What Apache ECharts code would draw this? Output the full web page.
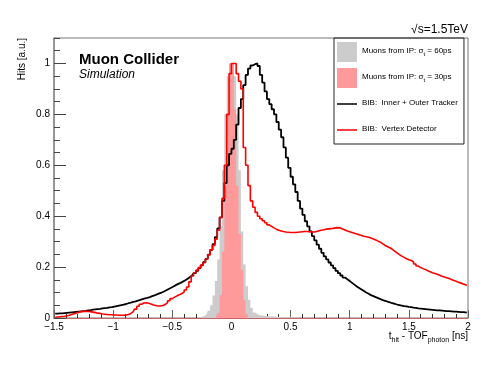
<!DOCTYPE html>
<html>
<head>
<meta charset="utf-8">
<script src="https://cdn.jsdelivr.net/npm/echarts@6/dist/echarts.min.js"></script>
<style>
html, body { margin: 0; padding: 0; background: #fff; }
#chart { width: 498px; height: 374px; }
</style>
</head>
<body>
<div id="chart"></div>
<script>
// histogram binning [ns]
const binWidth = 0.02
const bibStart = -1.5
const muons60Start = -0.30
const muons30Start = -0.14

// BIB: Inner + Outer Tracker
const bibTracker = [
    0.017, 0.017, 0.018, 0.018, 0.019, 0.020, 0.021, 0.022, 0.023, 0.024,
    0.025, 0.026, 0.027, 0.028, 0.030, 0.031, 0.033, 0.034, 0.035, 0.036,
    0.038, 0.039, 0.040, 0.042, 0.043, 0.045, 0.047, 0.049, 0.051, 0.053,
    0.055, 0.058, 0.060, 0.063, 0.065, 0.068, 0.071, 0.074, 0.077, 0.079,
    0.082, 0.086, 0.089, 0.093, 0.097, 0.100, 0.104, 0.109, 0.114, 0.119,
    0.124, 0.129, 0.134, 0.138, 0.143, 0.148, 0.154, 0.161, 0.168, 0.176,
    0.185, 0.196, 0.207, 0.219, 0.232, 0.249, 0.268, 0.290, 0.318, 0.352,
    0.395, 0.460, 0.530, 0.600, 0.645, 0.665, 0.700, 0.760, 0.825, 0.860,
    0.915, 0.955, 0.980, 0.992, 0.997, 1.000, 0.990, 0.955, 0.925, 0.890,
    0.860, 0.840, 0.820, 0.800, 0.770, 0.740, 0.710, 0.670, 0.630, 0.590,
    0.555, 0.525, 0.495, 0.460, 0.430, 0.405, 0.380, 0.360, 0.340, 0.322,
    0.305, 0.288, 0.272, 0.256, 0.242, 0.230, 0.218, 0.207, 0.196, 0.185,
    0.176, 0.167, 0.159, 0.152, 0.145, 0.138, 0.131, 0.124, 0.118, 0.112,
    0.106, 0.100, 0.095, 0.090, 0.086, 0.082, 0.078, 0.074, 0.070, 0.067,
    0.064, 0.061, 0.058, 0.056, 0.053, 0.051, 0.049, 0.047, 0.046, 0.044,
    0.043, 0.041, 0.040, 0.038, 0.037, 0.036, 0.035, 0.034, 0.033, 0.032,
    0.031, 0.030, 0.030, 0.029, 0.028, 0.027, 0.027, 0.026, 0.025, 0.025,
    0.024, 0.023, 0.023, 0.022, 0.021
]

// BIB: Vertex Detector
const bibVertex = [
    0.003, 0.004, 0.005, 0.006, 0.007, 0.009, 0.011, 0.014, 0.017, 0.020,
    0.023, 0.025, 0.026, 0.026, 0.026, 0.025, 0.023, 0.021, 0.019, 0.018,
    0.016, 0.015, 0.014, 0.013, 0.013, 0.012, 0.012, 0.011, 0.011, 0.011,
    0.012, 0.014, 0.018, 0.025, 0.035, 0.046, 0.054, 0.059, 0.060, 0.058,
    0.055, 0.051, 0.049, 0.047, 0.047, 0.049, 0.053, 0.060, 0.068, 0.076,
    0.082, 0.087, 0.091, 0.096, 0.102, 0.110, 0.122, 0.142, 0.165, 0.178,
    0.188, 0.198, 0.208, 0.218, 0.232, 0.248, 0.268, 0.285, 0.310, 0.345,
    0.395, 0.470, 0.600, 0.800, 0.960, 1.000, 1.000, 0.960, 0.930, 0.900,
    0.670, 0.600, 0.520, 0.460, 0.435, 0.415, 0.400, 0.390, 0.382, 0.374,
    0.366, 0.360, 0.354, 0.349, 0.345, 0.342, 0.340, 0.338, 0.337, 0.336,
    0.336, 0.336, 0.337, 0.338, 0.339, 0.340, 0.340, 0.339, 0.338, 0.338,
    0.340, 0.343, 0.345, 0.347, 0.349, 0.350, 0.351, 0.352, 0.354, 0.355,
    0.354, 0.350, 0.346, 0.342, 0.339, 0.336, 0.333, 0.330, 0.327, 0.324,
    0.321, 0.319, 0.317, 0.314, 0.310, 0.306, 0.302, 0.298, 0.291, 0.285,
    0.280, 0.276, 0.270, 0.263, 0.256, 0.249, 0.243, 0.238, 0.233, 0.229,
    0.226, 0.220, 0.212, 0.204, 0.198, 0.194, 0.190, 0.186, 0.182, 0.178,
    0.175, 0.172, 0.168, 0.164, 0.161, 0.158, 0.155, 0.151, 0.147, 0.144,
    0.140, 0.137, 0.134, 0.131, 0.127
]

// Muons from IP, sigma_t = 60ps
const muons60 = [
    0.002, 0.003, 0.005, 0.008, 0.015, 0.028, 0.050, 0.088, 0.145, 0.230,
    0.360, 0.580, 0.800, 0.950, 1.000, 1.000, 0.950, 0.800, 0.580, 0.340,
    0.210, 0.125, 0.072, 0.040, 0.022, 0.015, 0.012, 0.010, 0.009, 0.008,
    0.007, 0.006, 0.006, 0.005, 0.005, 0.004, 0.004, 0.003, 0.003, 0.003,
    0.002, 0.002, 0.002, 0.001, 0.001
]

// Muons from IP, sigma_t = 30ps
const muons30 = [
    0.005, 0.020, 0.090, 0.260, 0.520, 0.800, 1.000, 1.000, 0.820, 0.520,
    0.330, 0.190, 0.070, 0.015, 0.003
]

const yMajorTicks = [0, 0.2, 0.4, 0.6, 0.8, 1]

const names = {
    m60: 'Muons from IP: sigma60',
    m30: 'Muons from IP: sigma30',
    trk: 'BIB:  Inner + Outer Tracker',
    vtx: 'BIB:  Vertex Detector'
}
const legendText = {
    [names.m60]: '{a|Muons from IP: σ}{s|t}{a| = 60ps}',
    [names.m30]: '{a|Muons from IP: σ}{s|t}{a| = 30ps}',
    [names.trk]: '{a|BIB:  Inner + Outer Tracker}',
    [names.vtx]: '{a|BIB:  Vertex Detector}'
}
// thin bar for the line histograms; the two tiny corner specks keep a 20x20 box
const lineIcon = 'path://M0,0L0.01,0L0.01,0.01L0,0.01Z M0,9.2L20,9.2L20,10.8L0,10.8Z M19.99,19.99L20,19.99L20,20L19.99,20Z'

const FONT = '"Liberation Sans", Arial, Helvetica, sans-serif'

function toPoints(start, values) {
    return values.map((v, i) => [+(start + (i + 0.5) * binWidth).toFixed(4), v])
}

function fmtX(v) {
    if (v < 0) return '\u2212' + Math.abs(v)
    return String(v)
}

const chart = echarts.init(document.getElementById('chart'), null, { renderer: 'canvas' })

const option = {
    animation: false,
    backgroundColor: '#fff',
    textStyle: { fontFamily: FONT },
    grid: {
        left: 54, right: 30, top: 38, bottom: 56,
        show: true, borderColor: '#777', borderWidth: 1, backgroundColor: 'transparent'
    },
    legend: {
        left: 334, top: 38,
        orient: 'vertical',
        itemWidth: 20, itemHeight: 20, itemGap: 6,
        padding: [4, 6, 4, 3],
        borderColor: '#222', borderWidth: 1, borderRadius: 0,
        selectedMode: false,
        textStyle: {
            fontFamily: FONT, fontSize: 8, color: '#000',
            rich: {
                a: { fontFamily: FONT, fontSize: 8, color: '#000', verticalAlign: 'bottom', padding: [0, 0, 2, 0] },
                s: { fontFamily: FONT, fontSize: 6, color: '#000', verticalAlign: 'bottom' }
            }
        },
        formatter: name => legendText[name],
        data: [
            { name: names.m60, icon: 'rect' },
            { name: names.m30, icon: 'rect' },
            { name: names.trk, icon: lineIcon },
            { name: names.vtx, icon: lineIcon }
        ]
    },
    xAxis: {
        type: 'value',
        min: -1.5, max: 2, interval: 0.5,
        axisLine: { onZero: false, lineStyle: { color: '#c86464', width: 1 } },
        axisTick: { inside: true, length: 8, lineStyle: { color: '#666', width: 1 } },
        minorTick: { show: true, splitNumber: 5, length: 4, lineStyle: { color: '#333', width: 1 } },
        splitLine: { show: false },
        axisLabel: { margin: 4, fontSize: 10, color: '#000', fontFamily: FONT, formatter: fmtX }
    },
    yAxis: [
        {
            type: 'value',
            min: 0, max: 1.1,
            axisLine: { show: true, onZero: false, lineStyle: { color: '#888', width: 1.5 } },
            axisTick: { inside: true, length: 12, customValues: yMajorTicks, lineStyle: { color: '#444', width: 1 } },
            splitLine: { show: false },
            axisLabel: {
                margin: 4, fontSize: 10, color: '#000', fontFamily: FONT,
                customValues: yMajorTicks, formatter: v => String(v)
            }
        },
        {
            type: 'value',
            position: 'left',
            min: 0, max: 1.1, interval: 0.05,
            axisLine: { show: false, onZero: false },
            axisTick: { inside: true, length: 6, lineStyle: { color: '#444', width: 1 } },
            splitLine: { show: false },
            axisLabel: { show: false }
        }
    ],
    series: [
        {
            name: names.m60,
            type: 'line',
            step: 'middle',
            symbol: 'none',
            color: '#cccccc',
            lineStyle: { width: 0, color: '#cccccc' },
            areaStyle: { color: '#cccccc', opacity: 1 },
            data: toPoints(muons60Start, muons60),
            z: 1
        },
        {
            name: names.m30,
            type: 'line',
            step: 'middle',
            symbol: 'none',
            color: '#ff9a9a',
            lineStyle: { width: 0, color: '#ff9a9a' },
            areaStyle: { color: '#ff9a9a', opacity: 1 },
            data: toPoints(muons30Start, muons30),
            z: 2
        },
        {
            name: names.trk,
            type: 'line',
            step: 'middle',
            symbol: 'none',
            color: '#000',
            lineStyle: { width: 1.8, color: '#000' },
            data: toPoints(bibStart, bibTracker),
            z: 3
        },
        {
            name: names.vtx,
            type: 'line',
            step: 'middle',
            symbol: 'none',
            color: '#ff0000',
            lineStyle: { width: 1.6, color: '#ff0000' },
            data: toPoints(bibStart, bibVertex),
            z: 4
        }
    ],
    graphic: [
        {
            type: 'text', left: 79, top: 52,
            style: { text: 'Muon Collider', font: 'bold 15px ' + FONT, fill: '#000' }
        },
        {
            type: 'text', left: 79, top: 69,
            style: { text: 'Simulation', font: 'italic 12px ' + FONT, fill: '#000' }
        },
        {
            type: 'text', right: 30, top: 24,
            style: { text: '√s=1.5TeV', font: '12px ' + FONT, fill: '#000' }
        },
        {
            type: 'text', x: 22, y: 38, rotation: Math.PI / 2,
            style: {
                text: 'Hits [a.u.]', font: '10px ' + FONT, fill: '#000',
                align: 'right', verticalAlign: 'middle'
            }
        },
        {
            type: 'text', right: 30, top: 331,
            style: {
                text: '{a|t}{s|hit}{a| - TOF}{s|photon}{a| [ns]}',
                rich: {
                    a: { fontFamily: FONT, fontSize: 10, fill: '#000', verticalAlign: 'bottom', padding: [0, 0, 3, 0] },
                    s: { fontFamily: FONT, fontSize: 7, fill: '#000', verticalAlign: 'bottom' }
                }
            }
        }
    ]
}

chart.setOption(option)
</script>
</body>
</html>
